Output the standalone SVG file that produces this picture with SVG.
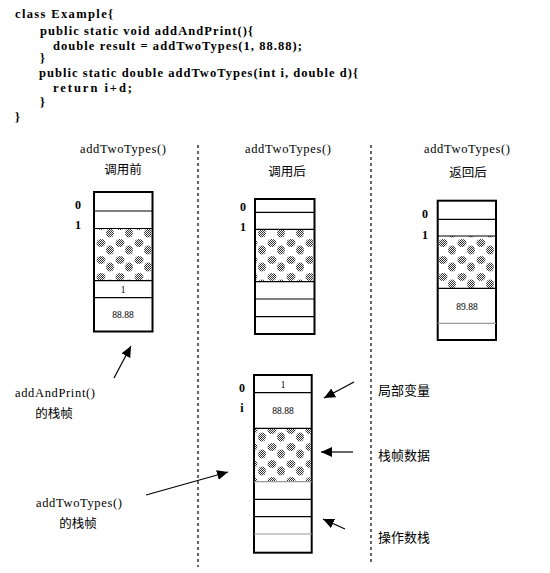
<svg xmlns="http://www.w3.org/2000/svg" width="550" height="573" viewBox="0 0 550 573">
<style>
.code{font-family:'Liberation Serif','DejaVu Serif',serif;font-weight:bold;font-size:12.5px;fill:#000}
.t{font-family:'Liberation Serif','DejaVu Serif',serif;font-size:12.5px;fill:#000;text-anchor:middle}
.cn{font-family:'Liberation Serif','Noto Sans CJK SC',serif;font-size:12.5px;fill:#000;text-anchor:middle}
.cnl{font-family:'Liberation Serif','Noto Sans CJK SC',serif;font-size:13px;fill:#000}
.idx{font-family:'Liberation Serif','DejaVu Serif',serif;font-weight:bold;font-size:12px;fill:#000;text-anchor:middle}
.val{font-family:'Liberation Serif','DejaVu Serif',serif;font-size:9.5px;fill:#000;text-anchor:middle}
.box{fill:#fff;stroke:#000;stroke-width:2}
.div{stroke:#000;stroke-width:1.2}
.gdiv{stroke:#999;stroke-width:1.2}
.dash{stroke:#000;stroke-width:1.2;stroke-dasharray:3,3;fill:none}
.arr{stroke:#000;stroke-width:1.2;fill:none;marker-end:url(#ah)}
.stip{fill:url(#blobs)}
</style>
<defs>
<pattern id="dith" width="2" height="2" patternUnits="userSpaceOnUse">
<rect width="2" height="2" fill="#fff"/>
<rect width="1" height="1" fill="#333"/>
<rect x="1" y="1" width="1" height="1" fill="#333"/>
</pattern>
<pattern id="blobs" width="19" height="17" patternUnits="userSpaceOnUse">
<ellipse cx="6" cy="5" rx="4.5" ry="4" fill="url(#dith)"/>
<ellipse cx="15" cy="12" rx="4" ry="4.5" fill="url(#dith)"/>
</pattern>
<marker id="ah" markerUnits="userSpaceOnUse" markerWidth="12" markerHeight="10" refX="11" refY="5" orient="auto">
<path d="M0,0 L11,5 L0,10 Z" fill="#000"/>
</marker>
</defs>

<g id="code">
<text class="code" x="15" y="18" textLength="98" lengthAdjust="spacing">class Example{</text>
<text class="code" x="40" y="35" textLength="213" lengthAdjust="spacing">public static void addAndPrint(){</text>
<text class="code" x="53" y="50" textLength="249" lengthAdjust="spacing">double  result = addTwoTypes(1, 88.88);</text>
<text class="code" x="40" y="62">}</text>
<text class="code" x="39" y="77" textLength="319" lengthAdjust="spacing">public static double addTwoTypes(int i, double d){</text>
<text class="code" x="53" y="92" textLength="79" lengthAdjust="spacing">return i+d;</text>
<text class="code" x="40" y="106">}</text>
<text class="code" x="15" y="121">}</text>
</g>

<g id="connectors">
<line class="dash" x1="198" y1="145" x2="198" y2="567"/>
<line class="dash" x1="371" y1="145" x2="371" y2="563"/>
<line class="arr" x1="114" y1="378" x2="131" y2="346"/>
<line class="arr" x1="146" y1="495" x2="228" y2="472"/>
<line class="arr" x1="354" y1="382" x2="324" y2="398"/>
<line class="arr" x1="353" y1="452" x2="321" y2="452"/>
<line class="arr" x1="345" y1="529" x2="323" y2="519"/>
</g>

<g id="stack-before">
<text class="t" x="123" y="153" textLength="86" lengthAdjust="spacing">addTwoTypes()</text>
<text class="cn" x="123" y="174">调用前</text>
<rect class="box" x="94" y="192" width="58.5" height="139.5"/>
<rect class="stip" x="95" y="228.5" width="56.5" height="52"/>
<line class="div" x1="94" y1="211" x2="152.5" y2="211"/>
<line class="div" x1="94" y1="228.5" x2="152.5" y2="228.5"/>
<line class="div" x1="94" y1="280.7" x2="152.5" y2="280.7"/>
<line class="div" x1="94" y1="297.7" x2="152.5" y2="297.7"/>
<text class="idx" x="78" y="209">0</text>
<text class="idx" x="78" y="229">1</text>
<text class="val" x="123" y="293">1</text>
<text class="val" x="123" y="318">88.88</text>
</g>

<g id="stack-after">
<text class="t" x="288" y="153" textLength="86" lengthAdjust="spacing">addTwoTypes()</text>
<text class="cn" x="287" y="176">调用后</text>
<rect class="box" x="255" y="199" width="59.5" height="135"/>
<rect class="stip" x="256" y="229.5" width="57.5" height="52"/>
<line class="div" x1="255" y1="212.3" x2="314.5" y2="212.3"/>
<line class="div" x1="255" y1="229.3" x2="314.5" y2="229.3"/>
<line class="div" x1="255" y1="281.7" x2="314.5" y2="281.7"/>
<line class="div" x1="255" y1="299" x2="314.5" y2="299"/>
<line class="div" x1="255" y1="316.7" x2="314.5" y2="316.7"/>
<text class="idx" x="243" y="211">0</text>
<text class="idx" x="243" y="231">1</text>
</g>

<g id="stack-return">
<text class="t" x="467" y="153" textLength="86" lengthAdjust="spacing">addTwoTypes()</text>
<text class="cn" x="468" y="177">返回后</text>
<rect class="box" x="437.7" y="200.7" width="58.3" height="139.3"/>
<rect class="stip" x="438.7" y="236" width="56.3" height="52.3"/>
<line class="div" x1="437.7" y1="219.3" x2="496" y2="219.3"/>
<line class="div" x1="437.7" y1="236" x2="496" y2="236"/>
<line class="div" x1="437.7" y1="288.3" x2="496" y2="288.3"/>
<line class="gdiv" x1="437.7" y1="323.3" x2="496" y2="323.3"/>
<text class="idx" x="425" y="218">0</text>
<text class="idx" x="425" y="239">1</text>
<text class="val" x="467" y="310">89.88</text>
</g>

<g id="stack-frames">
<rect class="box" x="254" y="375" width="57.7" height="177.7"/>
<rect class="stip" x="255" y="428.3" width="55.7" height="53.4"/>
<line class="div" x1="254" y1="392.7" x2="311.7" y2="392.7"/>
<line class="div" x1="254" y1="428.3" x2="311.7" y2="428.3"/>
<line class="gdiv" x1="254" y1="481.7" x2="311.7" y2="481.7"/>
<line class="div" x1="254" y1="499.3" x2="311.7" y2="499.3"/>
<line class="div" x1="254" y1="516.7" x2="311.7" y2="516.7"/>
<line class="gdiv" x1="254" y1="534" x2="311.7" y2="534"/>
<text class="idx" x="242" y="392">0</text>
<text class="idx" x="242" y="412">i</text>
<text class="val" x="283" y="388">1</text>
<text class="val" x="283" y="414">88.88</text>
</g>

<g id="label-addandprint">
<text class="t" x="55" y="397" textLength="80" lengthAdjust="spacing">addAndPrint()</text>
<text class="cn" x="54" y="418">的栈帧</text>
</g>
<g id="label-addtwotypes">
<text class="t" x="79" y="507" textLength="86" lengthAdjust="spacing">addTwoTypes()</text>
<text class="cn" x="78" y="528">的栈帧</text>
</g>
<g id="label-local">
<text class="cnl" x="378" y="395">局部变量</text>
</g>
<g id="label-framedata">
<text class="cnl" x="378" y="460">栈帧数据</text>
</g>
<g id="label-operand">
<text class="cnl" x="378" y="542">操作数栈</text>
</g>
</svg>
